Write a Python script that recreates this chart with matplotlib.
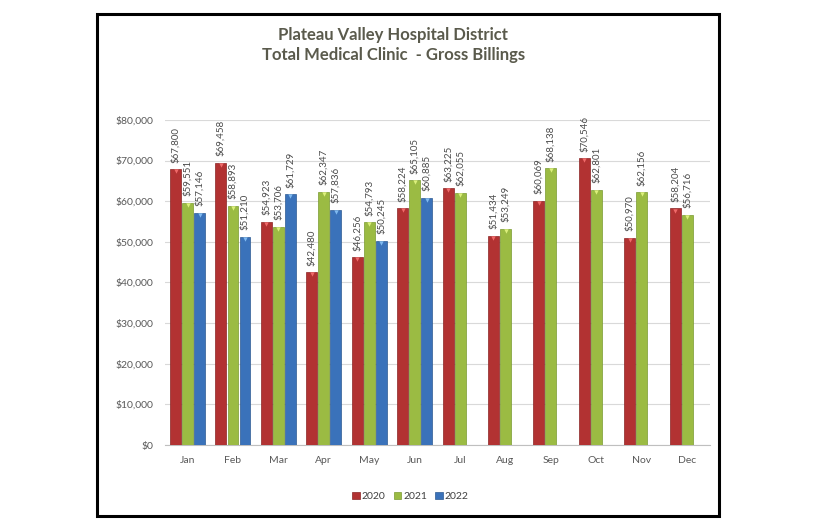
import numpy as np
import matplotlib
matplotlib.use("Agg")
import matplotlib.pyplot as plt
from matplotlib.patches import Rectangle

plt.rcParams['font.family'] = ['Lato', 'DejaVu Sans']

months = ["Jan", "Feb", "Mar", "Apr", "May", "Jun", "Jul", "Aug", "Sep", "Oct", "Nov", "Dec"]
v2020 = [67800, 69458, 54923, 42480, 46256, 58224, 63225, 51434, 60069, 70546, 50970, 58204]
v2021 = [59551, 58893, 53706, 62347, 54793, 65105, 62055, 53249, 68138, 62801, 62156, 56716]
v2022 = [57146, 51210, 61729, 57836, 50245, 60885]
years = ["2020", "2021", "2022"]

colors = ["#b23232", "#9bbb43", "#3a72ba"]
edges = ["#8a2424", "#7a9a30", "#2c5a92"]
tops = ["#f06a6a", "#dcf07c", "#80baf0"]

fig = plt.figure(figsize=(8.16, 5.28), dpi=100)
ax = fig.add_axes([0.202, 0.157, 0.668, 0.616])

x = np.arange(len(months))
w = 0.24
series = [v2020, v2021, v2022]
for i, vals in enumerate(series):
    xs = x[:len(vals)] + (i - 1) * 0.265
    ax.bar(xs, vals, width=w, color=colors[i], edgecolor=edges[i], linewidth=0.5,
           label=years[i], zorder=3)
    ax.scatter(xs, np.array(vals) - 500, marker='v', s=10, color=tops[i], zorder=4, linewidths=0)
    for xx, v in zip(xs, vals):
        ax.text(xx, v + 1600, "${:,}".format(v), rotation=90, ha='center', va='bottom',
                fontsize=7, color='#4a4a4a', clip_on=False)

ax.set_xlim(-0.5, 11.5)
ax.set_ylim(0, 80000)
ax.set_yticks(np.arange(0, 80001, 10000))
ax.set_yticklabels(["${:,}".format(t) for t in range(0, 80001, 10000)])
ax.set_xticks(x)
ax.set_xticklabels(months)
ax.tick_params(axis='both', length=0, labelsize=7.5, colors='#595959')
ax.tick_params(axis='x', pad=8)
ax.tick_params(axis='y', pad=8)
ax.grid(axis='y', color='#d9d9d9', linewidth=0.8, zorder=0)
for s in ['left', 'right', 'top']:
    ax.spines[s].set_visible(False)
ax.spines['bottom'].set_color('#bfbfbf')

fig.text(0.482, 0.934, "Plateau Valley Hospital District", ha='center', va='center',
         fontsize=12, fontweight='bold', color='#5a5a4c')
fig.text(0.482, 0.896, "Total Medical Clinic  - Gross Billings", ha='center', va='center',
         fontsize=12, fontweight='bold', color='#5a5a4c')

leg = fig.legend(loc='center', bbox_to_anchor=(0.503, 0.06), ncol=3, frameon=False,
                 fontsize=7.5, handlelength=0.7, handleheight=0.7, handletextpad=0.2,
                 columnspacing=0.8)
for t in leg.get_texts():
    t.set_color('#404040')

fig.patches.append(Rectangle((0.119, 0.023), 0.762, 0.95, transform=fig.transFigure,
                             fill=False, edgecolor='black', linewidth=2.2))

fig.savefig("out.png", dpi=100)
